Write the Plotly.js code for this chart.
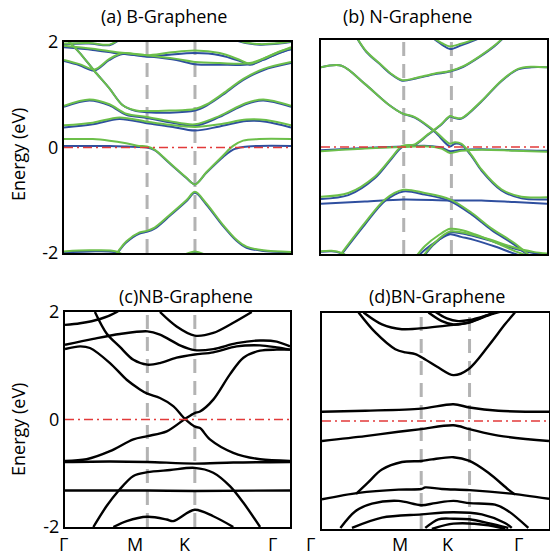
<!DOCTYPE html>
<html><head><meta charset="utf-8">
<script src="https://cdn.plot.ly/plotly-3.0.1.min.js"></script>
<style>html,body{margin:0;padding:0;background:#fff}#plot{width:550px;height:558px}</style>
</head><body><div id="plot"></div>
<script>
// high-symmetry positions (Γ, M, K, Γ) along the normalised k-path
const kPathABC = [0, 0.366, 0.577, 1];
const kPathD = [0, 0.437, 0.650, 1];
const kLabels = ['Γ', 'M', 'K', 'Γ'];
const titles = ['(a) B-Graphene', '(b) N-Graphene', '(c)NB-Graphene', '(d)BN-Graphene'];
const yTicks = [-2, 0, 2];

// ---------- (a) B-Graphene : blue / green spin channels ----------
const aV0x = [0, 0.112, 0.23, 0.29];
const aV0blue = [-1.99, -1.97, -1.99, -2.15];
const aV0green = [-1.97, -1.95, -1.97, -2.13];
const aV0bx = [0.50, 0.577, 0.65];
const aV0bblue = [-2.12, -1.99, -2.12];
const aV0bgreen = [-2.10, -1.97, -2.10];
const aV1x = [0.21, 0.237, 0.274, 0.333, 0.365, 0.399, 0.465, 0.539, 0.577, 0.627, 0.701, 0.760, 0.804, 0.878, 1];
const aV1blue = [-2.15, -1.99, -1.80, -1.63, -1.60, -1.54, -1.30, -1.02, -0.86, -1.08, -1.49, -1.77, -1.90, -1.96, -1.99];
const aV1green = [-2.15, -1.98, -1.78, -1.61, -1.58, -1.52, -1.28, -1.00, -0.84, -1.06, -1.47, -1.75, -1.88, -1.95, -1.98];
const aC1x = [0, 0.127, 0.2, 0.274, 0.33, 0.365, 0.399, 0.465, 0.539, 0.577, 0.627, 0.701, 0.745, 0.789, 0.86, 1];
const aC1blue = [0.03, 0.03, 0.03, 0.02, 0.01, 0.0, -0.05, -0.30, -0.58, -0.70, -0.48, -0.18, -0.04, 0.01, 0.03, 0.03];
const aC1green = [0.16, 0.16, 0.13, 0.08, 0.03, 0.02, -0.04, -0.29, -0.57, -0.70, -0.47, -0.15, 0.03, 0.13, 0.16, 0.16];
const aC2x = [0, 0.127, 0.244, 0.365, 0.465, 0.577, 0.686, 0.804, 0.89, 1];
const aC2blue = [0.38, 0.44, 0.54, 0.46, 0.40, 0.32, 0.40, 0.50, 0.49, 0.38];
const aC2green = [0.42, 0.47, 0.57, 0.49, 0.43, 0.39, 0.44, 0.53, 0.52, 0.42];
const aC3x = [0, 0.112, 0.2, 0.274, 0.365, 0.465, 0.577, 0.686, 0.80, 0.878, 1];
const aC3blue = [0.77, 0.89, 0.80, 0.62, 0.56, 0.48, 0.41, 0.58, 0.82, 0.89, 0.77];
const aC3green = [0.79, 0.91, 0.82, 0.64, 0.58, 0.50, 0.44, 0.60, 0.84, 0.91, 0.79];
const aC4x = [0, 0.068, 0.134, 0.2, 0.259, 0.318, 0.365, 0.465, 0.577, 0.63, 0.70, 0.79, 0.88, 1];
const aC4blue = [2.1, 1.80, 1.45, 1.12, 0.80, 0.69, 0.67, 0.66, 0.70, 0.80, 1.00, 1.28, 1.47, 1.60];
const aC4green = [2.1, 1.80, 1.45, 1.12, 0.80, 0.70, 0.69, 0.70, 0.73, 0.82, 1.02, 1.30, 1.49, 1.62];
const aT1x = [0, 0.127, 0.244, 0.365, 0.495, 0.577, 0.686, 0.819, 0.907, 1];
const aT1blue = [1.90, 1.85, 1.78, 1.73, 1.66, 1.58, 1.57, 1.58, 1.72, 1.88];
const aT1green = [1.93, 1.87, 1.80, 1.75, 1.68, 1.62, 1.60, 1.60, 1.74, 1.90];
const aT2x = [0, 0.068, 0.134, 0.2, 0.259, 0.365, 0.465, 0.577, 0.686, 0.775, 0.819, 0.878, 0.95, 1];
const aT2blue = [1.64, 1.56, 1.46, 1.66, 1.77, 1.72, 1.76, 1.79, 1.75, 1.64, 1.57, 1.66, 1.80, 1.86];
const aT2green = [1.66, 1.58, 1.48, 1.68, 1.79, 1.75, 1.80, 1.84, 1.79, 1.66, 1.59, 1.68, 1.82, 1.88];
const aT3x = [0.745, 0.80, 0.863, 0.95, 1];
const aT3blue = [2.05, 1.98, 1.95, 1.97, 2.0];
const aT3green = [2.06, 1.99, 1.96, 1.98, 2.01];
const aT4x = [0, 0.11, 0.2, 0.24];
const aT4blue = [1.96, 1.97, 1.94, 2.03];
const aT4green = [1.97, 1.98, 1.95, 2.04];

// ---------- (b) N-Graphene ----------
const bB0x = [0.50, 0.54, 0.571, 0.62, 0.70];
const bB0blue = [2.02, 1.90, 1.83, 1.90, 2.03];
const bB0green = [2.03, 1.93, 1.88, 1.93, 2.04];
const bB1x = [0.15, 0.2, 0.268, 0.31, 0.359, 0.42, 0.50, 0.571, 0.63, 0.70, 0.769, 0.81];
const bB1blue = [2.10, 1.78, 1.52, 1.36, 1.24, 1.28, 1.36, 1.41, 1.50, 1.68, 1.89, 2.05];
const bB1green = [2.10, 1.79, 1.53, 1.37, 1.25, 1.29, 1.37, 1.42, 1.51, 1.69, 1.90, 2.06];
const bB2x = [0, 0.091, 0.194, 0.297, 0.359, 0.415, 0.504, 0.571, 0.592, 0.622, 0.666, 0.71, 0.798, 0.887, 1];
const bB2blue = [1.49, 1.52, 1.18, 0.80, 0.63, 0.55, 0.28, 0.01, 0.06, 0.04, -0.17, -0.44, -0.81, -0.96, -0.98];
const bB2green = [1.49, 1.52, 1.18, 0.80, 0.63, 0.56, 0.30, 0.06, 0.09, 0.06, -0.15, -0.42, -0.79, -0.93, -0.94];
const bB3x = [0, 0.121, 0.239, 0.312, 0.359, 0.415, 0.474, 0.533, 0.571, 0.592, 0.622, 0.710, 0.798, 0.872, 0.931, 1];
const bB3blue = [-0.97, -0.90, -0.58, -0.22, 0.00, 0.04, 0.23, 0.42, 0.57, 0.54, 0.53, 0.85, 1.23, 1.45, 1.49, 1.49];
const bB3green = [-0.93, -0.86, -0.55, -0.20, 0.02, 0.05, 0.24, 0.43, 0.58, 0.55, 0.54, 0.86, 1.24, 1.46, 1.50, 1.49];
const bB4x = [0, 0.194, 0.359, 0.474, 0.533, 0.571, 0.622, 0.71, 0.857, 1];
const bB4blue = [-0.06, -0.02, 0.01, 0.02, -0.01, -0.08, -0.05, -0.04, -0.06, -0.07];
const bB4green = [-0.08, -0.03, 0.0, 0.01, -0.03, -0.11, -0.07, -0.05, -0.07, -0.09];
const bB5x = [0, 0.194, 0.364, 0.571, 0.71, 0.857, 1];
const bB5blue = [-1.06, -1.02, -0.98, -1.00, -1.00, -1.03, -1.06];
const bB6x = [0.085, 0.194, 0.283, 0.364, 0.459, 0.571, 0.666, 0.754, 0.857, 0.92];
const bB6blue = [-2.04, -1.45, -1.01, -0.83, -0.89, -1.01, -1.26, -1.55, -1.83, -2.04];
const bB6green = [-2.02, -1.42, -0.98, -0.80, -0.86, -0.98, -1.23, -1.52, -1.80, -2.02];
const bB7x = [0.42, 0.46, 0.52, 0.571, 0.62, 0.68, 0.77, 0.86, 0.93];
const bB7blue = [-2.08, -1.92, -1.74, -1.63, -1.68, -1.74, -1.86, -2.0, -2.08];
const bB7green = [-2.05, -1.85, -1.65, -1.53, -1.55, -1.63, -1.78, -1.95, -2.05];
const bB8x = [0.45, 0.50, 0.571, 0.65, 0.74, 0.84, 0.94, 1];
const bB8blue = [-2.07, -1.82, -1.60, -1.64, -1.74, -1.88, -1.98, -2.01];
const bB8green = [-2.05, -1.80, -1.58, -1.62, -1.72, -1.86, -1.96, -1.99];
const bB9x = [0, 0.047, 0.091, 0.12];
const bB9blue = [-1.96, -1.95, -1.99, -2.06];
const bB9green = [-1.95, -1.94, -1.98, -2.05];

// ---------- (c) NB-Graphene ----------
const c1x = [0, 0.067, 0.156, 0.230, 0.26];
const c1e = [1.76, 1.79, 1.87, 2.0, 2.1];
const c2x = [0, 0.126, 0.244, 0.366, 0.422, 0.511, 0.576, 0.659, 0.763, 0.867, 0.941, 1];
const c2e = [1.39, 1.50, 1.59, 1.64, 1.58, 1.38, 1.29, 1.31, 1.42, 1.47, 1.45, 1.36];
const c3x = [0.133, 0.185, 0.244, 0.304, 0.366, 0.422, 0.496, 0.576, 0.659, 0.763, 0.867, 0.941, 1];
const c3e = [2.0, 1.60, 1.35, 1.11, 1.02, 1.05, 1.15, 1.21, 1.25, 1.36, 1.38, 1.34, 1.30];
const c4x = [0.422, 0.496, 0.576, 0.659, 0.748, 0.830];
const c4e = [2.0, 1.73, 1.56, 1.61, 1.80, 2.0];
const c5x = [0, 0.067, 0.111, 0.2, 0.274, 0.333, 0.366, 0.422, 0.481, 0.533, 0.576, 0.6, 0.644, 0.748, 0.867, 1];
const c5e = [1.31, 1.36, 1.33, 1.05, 0.74, 0.56, 0.48, 0.40, 0.25, 0.01, -0.13, -0.16, -0.37, -0.62, -0.74, -0.77];
const c6x = [0, 0.096, 0.2, 0.304, 0.366, 0.452, 0.533, 0.576, 0.6, 0.659, 0.733, 0.793, 0.867, 0.941, 1];
const c6e = [-0.77, -0.74, -0.59, -0.37, -0.31, -0.22, 0.01, 0.12, 0.15, 0.37, 0.84, 1.15, 1.28, 1.30, 1.30];
const c7x = [0, 0.2, 0.366, 0.576, 0.748, 1];
const c7e = [-0.79, -0.78, -0.79, -0.82, -0.80, -0.79];
const c8x = [0.126, 0.185, 0.237, 0.304, 0.366, 0.467, 0.576, 0.659, 0.733, 0.793, 0.867];
const c8e = [-2.0, -1.61, -1.33, -1.05, -0.98, -0.94, -0.90, -0.99, -1.24, -1.55, -2.0];
const c9x = [0, 0.366, 0.576, 1];
const c9e = [-1.32, -1.32, -1.33, -1.32];
const c10x = [0.215, 0.274, 0.366, 0.452, 0.481, 0.576, 0.659, 0.748];
const c10e = [-2.0, -1.89, -1.81, -1.86, -1.89, -1.68, -1.80, -2.0];

// ---------- (d) BN-Graphene ----------
const d1x = [0.161, 0.235, 0.323, 0.367, 0.411, 0.455, 0.513, 0.579, 0.645, 0.733, 0.806, 0.850];
const d1e = [2.01, 1.64, 1.33, 1.27, 1.24, 1.14, 0.99, 0.85, 0.96, 1.39, 1.79, 2.01];
const d2x = [0.183, 0.264, 0.352, 0.469, 0.557, 0.645, 0.748, 0.792];
const d2e = [2.01, 1.79, 1.70, 1.73, 1.77, 1.82, 1.98, 2.03];
const d3x = [0.469, 0.528, 0.579, 0.650, 0.704, 0.762];
const d3e = [2.01, 1.85, 1.79, 1.83, 1.92, 2.01];
const d3bx = [0.50, 0.55, 0.60, 0.65, 0.72, 0.77];
const d3be = [2.02, 1.90, 1.85, 1.87, 1.95, 2.02];
const d4x = [0, 0.191, 0.437, 0.579, 0.650, 0.777, 1];
const d4e = [0.17, 0.19, 0.23, 0.31, 0.25, 0.19, 0.17];
const d5x = [0, 0.191, 0.337, 0.437, 0.579, 0.650, 0.777, 1];
const d5e = [-0.37, -0.28, -0.20, -0.15, -0.08, -0.15, -0.27, -0.37];
const d6x = [0.15, 0.2, 0.264, 0.352, 0.437, 0.484, 0.579, 0.650, 0.733, 0.821, 0.850];
const d6e = [-1.35, -1.15, -0.90, -0.76, -0.74, -0.71, -0.67, -0.74, -0.96, -1.27, -1.36];
const d7x = [0, 0.161, 0.337, 0.437, 0.455, 0.528, 0.650, 0.821, 1];
const d7e = [-1.45, -1.33, -1.27, -1.26, -1.23, -1.26, -1.28, -1.34, -1.44];
const d8x = [0.081, 0.147, 0.22, 0.337, 0.437, 0.499, 0.579, 0.650, 0.762, 0.821, 0.909];
const d8e = [-1.98, -1.67, -1.53, -1.48, -1.56, -1.52, -1.48, -1.52, -1.55, -1.67, -1.98];
const d9x = [0.132, 0.264, 0.437, 0.579, 0.704, 0.806, 0.836];
const d9e = [-1.98, -1.79, -1.73, -1.69, -1.73, -1.89, -1.98];
const d10x = [0.455, 0.513, 0.579, 0.650, 0.733, 0.821];
const d10e = [-1.98, -1.82, -1.81, -1.82, -1.89, -1.98];
const d11x = [0.484, 0.579, 0.733, 0.806];
const d11e = [-2.0, -1.90, -1.93, -2.0];

// ---------- build ----------
const BLUE = '#2f4f9f', GREEN = '#6cbf4a', BLACK = '#000000';
const traces = [];
function line(x, y, ax, color, w) {
  traces.push({x: x, y: y, xaxis: 'x' + ax, yaxis: 'y' + ax, type: 'scatter', mode: 'lines',
    line: {color: color, width: w, shape: 'spline', smoothing: 0.9}, hoverinfo: 'skip', showlegend: false});
}
const aBands = [[aV0x, aV0blue, aV0green], [aV0bx, aV0bblue, aV0bgreen], [aV1x, aV1blue, aV1green],
  [aC1x, aC1blue, aC1green], [aC2x, aC2blue, aC2green], [aC3x, aC3blue, aC3green], [aC4x, aC4blue, aC4green],
  [aT1x, aT1blue, aT1green], [aT2x, aT2blue, aT2green], [aT3x, aT3blue, aT3green], [aT4x, aT4blue, aT4green]];
const bBands = [[bB0x, bB0blue, bB0green], [bB1x, bB1blue, bB1green], [bB2x, bB2blue, bB2green],
  [bB3x, bB3blue, bB3green], [bB4x, bB4blue, bB4green], [bB5x, bB5blue, null], [bB6x, bB6blue, bB6green],
  [bB7x, bB7blue, bB7green], [bB8x, bB8blue, bB8green], [bB9x, bB9blue, bB9green]];
aBands.forEach(b => line(b[0], b[1], '', BLUE, 2));
aBands.forEach(b => { if (b[2]) line(b[0], b[2], '', GREEN, 2); });
bBands.forEach(b => line(b[0], b[1], '2', BLUE, 2));
bBands.forEach(b => { if (b[2]) line(b[0], b[2], '2', GREEN, 2); });
[[c1x, c1e], [c2x, c2e], [c3x, c3e], [c4x, c4e], [c5x, c5e], [c6x, c6e], [c7x, c7e], [c8x, c8e], [c9x, c9e], [c10x, c10e]]
  .forEach(b => line(b[0], b[1], '3', BLACK, 2.4));
[[d1x, d1e], [d2x, d2e], [d3x, d3e], [d3bx, d3be], [d4x, d4e], [d5x, d5e], [d6x, d6e], [d7x, d7e], [d8x, d8e], [d9x, d9e], [d10x, d10e], [d11x, d11e]]
  .forEach(b => line(b[0], b[1], '4', BLACK, 2.4));

const FONT = 'Open Sans, Liberation Sans, sans-serif';
function xax(dom) {
  return {domain: dom, range: [0, 1], showline: true, mirror: true, linecolor: '#000', linewidth: 2,
    showgrid: false, zeroline: false, showticklabels: false, ticks: '', fixedrange: true};
}
function yax(dom, labels) {
  return {domain: dom, range: [-2, 2], showline: true, mirror: true, linecolor: '#000', linewidth: 2,
    showgrid: false, zeroline: false, tickvals: yTicks, ticktext: yTicks.map(String), showticklabels: labels,
    ticks: labels ? 'inside' : '', ticklen: 3, tickwidth: 1.5, tickcolor: '#000',
    tickfont: {family: FONT, size: 18, color: '#000'}, fixedrange: true};
}
const axNames = ['', '2', '3', '4'];
const kPaths = [kPathABC, kPathABC, kPathABC, kPathD];
const shapes = [];
axNames.forEach((a, i) => {
  const kp = kPaths[i];
  [kp[1], kp[2]].forEach(k => shapes.push({type: 'line', xref: 'x' + a, yref: 'y' + a + ' domain',
    x0: k, x1: k, y0: 0, y1: 1, layer: 'below', line: {color: '#b3b3b3', width: 3, dash: '14px,8px'}}));
  shapes.push({type: 'line', xref: 'x' + a + ' domain', yref: 'y' + a, x0: 0, x1: 1, y0: 0, y1: 0,
    layer: 'above', line: {color: '#e23a3a', width: 1.5, dash: '9px,4px,2px,4px'}});
});

const W = 550, H = 558;
const ann = [];
function txt(t, px, py, size, angle, yanchor) {
  ann.push({text: t, xref: 'paper', yref: 'paper', x: px / W, y: 1 - py / H, xanchor: 'center',
    yanchor: yanchor || 'middle', borderpad: 0,
    showarrow: false, textangle: angle || 0, font: {family: FONT, size: size, color: '#000'}});
}
txt(titles[0], 164, 16, 18); txt(titles[1], 407, 16, 18);
txt(titles[2], 186, 296, 18); txt(titles[3], 437, 296, 18);
txt('Energy (eV)', 18, 155, 18, -90); txt('Energy (eV)', 18, 430, 18, -90);
const tickPx = [63, 135, 185, 272, 310, 400, 448, 518];
tickPx.forEach((p, i) => txt(kLabels[i % 4], p, 557, 18, 0, 'bottom'));

const layout = {
  width: W, height: H, margin: {l: 0, r: 0, t: 0, b: 0}, paper_bgcolor: '#fff', plot_bgcolor: '#fff',
  showlegend: false,
  xaxis: xax([64 / W, 291 / W]), yaxis: yax([1 - 253 / H, 1 - 42 / H], true),
  xaxis2: xax([321 / W, 547 / W]), yaxis2: yax([1 - 254 / H, 1 - 40 / H], false),
  xaxis3: xax([65 / W, 290 / W]), yaxis3: yax([1 - 527 / H, 1 - 312 / H], true),
  xaxis4: xax([322 / W, 549 / W]), yaxis4: yax([1 - 529 / H, 1 - 313 / H], false),
  shapes: shapes, annotations: ann
};
layout.xaxis.anchor = 'y'; layout.yaxis.anchor = 'x';
layout.xaxis2.anchor = 'y2'; layout.yaxis2.anchor = 'x2';
layout.xaxis3.anchor = 'y3'; layout.yaxis3.anchor = 'x3';
layout.xaxis4.anchor = 'y4'; layout.yaxis4.anchor = 'x4';
Plotly.newPlot('plot', traces, layout, {staticPlot: true, displayModeBar: false});
</script></body></html>
